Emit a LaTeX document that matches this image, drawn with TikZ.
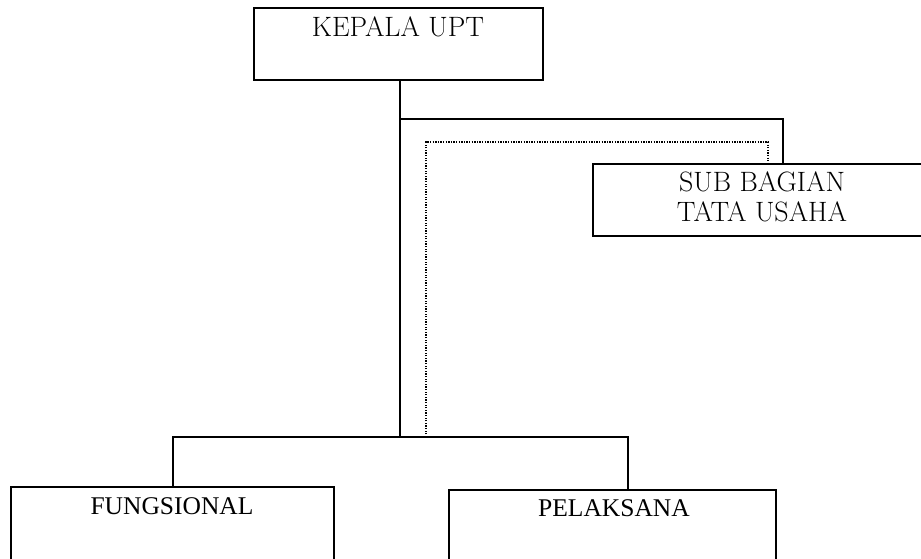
\documentclass[tikz,border=0pt]{standalone}
\usepackage{fontspec}
\newfontfamily\timesfont{Liberation Serif}
\begin{document}
\begin{tikzpicture}[x=1pt,y=-1pt,
  box/.style={draw=black,line width=1.6pt,rectangle,anchor=north west,inner sep=0pt,outer sep=0pt},
  lbl/.style={inner sep=0pt,font=\fontsize{28}{30}\selectfont,align=center},
  lblb/.style={inner sep=0pt,font=\timesfont\fontsize{25.5}{30}\selectfont,align=center},
  link/.style={draw=black,line width=1.6pt},
  dotlink/.style={draw=black,line width=1.3pt,dash pattern=on 1.3pt off 1.3pt}]
\clip (0,0) rectangle (921,559);
\fill[white] (0,0) rectangle (921,559);
% boxes
\node[box,minimum width=289pt,minimum height=72pt] (kepala) at (254,8) {};
\node[box,minimum width=345pt,minimum height=72pt] (tu) at (593,164) {};
\node[box,minimum width=323pt,minimum height=90pt] (fung) at (11,487) {};
\node[box,minimum width=327pt,minimum height=90pt] (pel) at (449,490) {};
% labels
\node[lbl] (kepalat) at (398,27) {KEPALA UPT};
\node[lbl] (tut) at (762,197) {SUB BAGIAN\\TATA USAHA};
\node[lblb] (fungt) at (172,506) {FUNGSIONAL};
\node[lblb] (pelt) at (614,508) {PELAKSANA};
% junction coordinates
\coordinate (top) at (400,80);
\coordinate (mid) at (400,437);
\coordinate (br) at (400,119);
\coordinate (brr) at (783,119);
\coordinate (hl) at (173,437);
\coordinate (hr) at (628,437);
\coordinate (d0) at (426,437);
\coordinate (d1) at (426,142);
\coordinate (d2) at (768,142);
% connectors
\draw[link] (top) -- (mid);
\draw[link] (br) -- (brr) -- (brr |- tu.north);
\draw[link] (hl |- fung.north) -- (hl) -- (hr) -- (hr |- pel.north);
\draw[dotlink] (d0) -- (d1) -- (d2) -- (d2 |- tu.north);
\end{tikzpicture}
\end{document}
